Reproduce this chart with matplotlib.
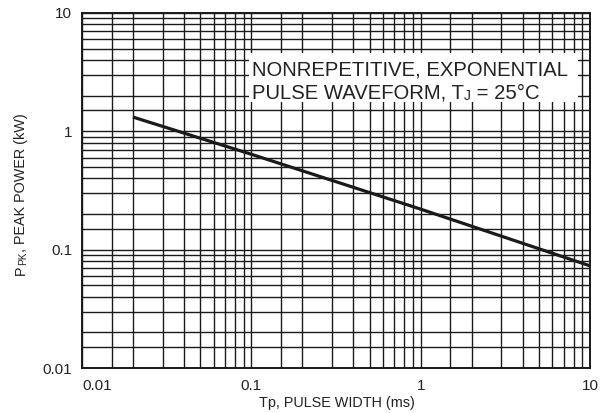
import matplotlib
matplotlib.use('Agg')
import matplotlib.pyplot as plt
import numpy as np
from matplotlib.patches import Rectangle

plt.rcParams['font.family'] = ['Liberation Sans', 'DejaVu Sans']

# curve (log-log, pulse width in ms, peak power in kW)
tp_ms = [0.02, 0.1, 1, 10]
ppk_kw = [1.32, 0.64, 0.22, 0.073]

x_ticks = [0.01, 0.1, 1, 10]
x_tick_labels = ['0.01', '0.1', '1', '10']
y_ticks = [0.01, 0.1, 1, 10]
y_tick_labels = ['0.01', '0.1', '1', '10']
minor_steps = [1.5, 2, 3, 4, 5, 6, 7, 8, 9]

TXT = '#222222'
GRID = '#1a1a1a'


def chain_text(ax, pieces, x, y, rotation=0, **kw):
    '''Draw text pieces one after another (for the small-cap subscripts).
    pieces: list of (string, fontsize)'''
    s, fs = pieces[0]
    if rotation == 0:
        t = ax.text(x, y, s, fontsize=fs, transform=ax.transAxes,
                    ha='left', va='baseline', **kw)
        for s, fs in pieces[1:]:
            t = ax.annotate(s, xy=(1, 0), xycoords=t, fontsize=fs,
                            ha='left', va='bottom', **kw)
    else:
        t = ax.text(x, y, s, fontsize=fs, transform=ax.transAxes,
                    rotation=90, ha='right', va='bottom', **kw)
        for s, fs in pieces[1:]:
            t = ax.annotate(s, xy=(1, 1), xycoords=t, fontsize=fs,
                            rotation=90, ha='right', va='bottom', **kw)
    return t


fig = plt.figure(figsize=(6.04, 4.13), dpi=100)
ax = fig.add_axes([82 / 604, 1 - 368 / 413, 508 / 604, 355 / 413])

ax.set_xscale('log')
ax.set_yscale('log')
ax.set_xlim(0.01, 10)
ax.set_ylim(0.01, 10)

minor_x = [d * m for d in x_ticks[:-1] for m in minor_steps]
minor_y = [d * m for d in y_ticks[:-1] for m in minor_steps]
ax.set_xticks(x_ticks)
ax.set_xticklabels(x_tick_labels)
ax.set_xticks(minor_x, minor=True)
ax.set_yticks(y_ticks)
ax.set_yticklabels(y_tick_labels)
ax.set_yticks(minor_y, minor=True)
ax.xaxis.set_minor_formatter(matplotlib.ticker.NullFormatter())
ax.yaxis.set_minor_formatter(matplotlib.ticker.NullFormatter())

ax.tick_params(which='both', length=0, labelsize=11, colors=TXT)
ax.tick_params(axis='x', pad=8)
ax.tick_params(axis='y', pad=7)
ax.get_xticklabels()[0].set_horizontalalignment('left')

ax.grid(True, which='both', color=GRID, linewidth=1.0)
for sp in ax.spines.values():
    sp.set_linewidth(1.4)
    sp.set_color(GRID)

ax.plot(tp_ms, ppk_kw, color='#1a1a1a', linewidth=2.3, zorder=5,
        solid_capstyle='butt')

# white label box over the grid
ax.add_patch(Rectangle((0.329, 0.749), 0.647, 0.138, transform=ax.transAxes,
                       facecolor='white', edgecolor='none', zorder=3))
ax.text(0.335, 0.825, 'NONREPETITIVE, EXPONENTIAL', fontsize=14.6,
        transform=ax.transAxes, ha='left', va='baseline', color=TXT, zorder=4)
chain_text(ax, [('PULSE WAVEFORM, T', 14.6), ('J', 10), (' = 25°C', 14.6)],
           0.335, 0.759, color=TXT, zorder=4)

# axis titles
fig.text(337 / 604, 1 - 403 / 413, 'Tp, PULSE WIDTH (ms)', fontsize=10.4,
         ha='center', va='center', color=TXT)
chain_text(ax, [('P', 10.4), ('PK', 7.2), (', PEAK POWER (kW)', 10.4)],
           -0.107, 0.262, rotation=90, color=TXT)

fig.savefig('out.png', dpi=100)
